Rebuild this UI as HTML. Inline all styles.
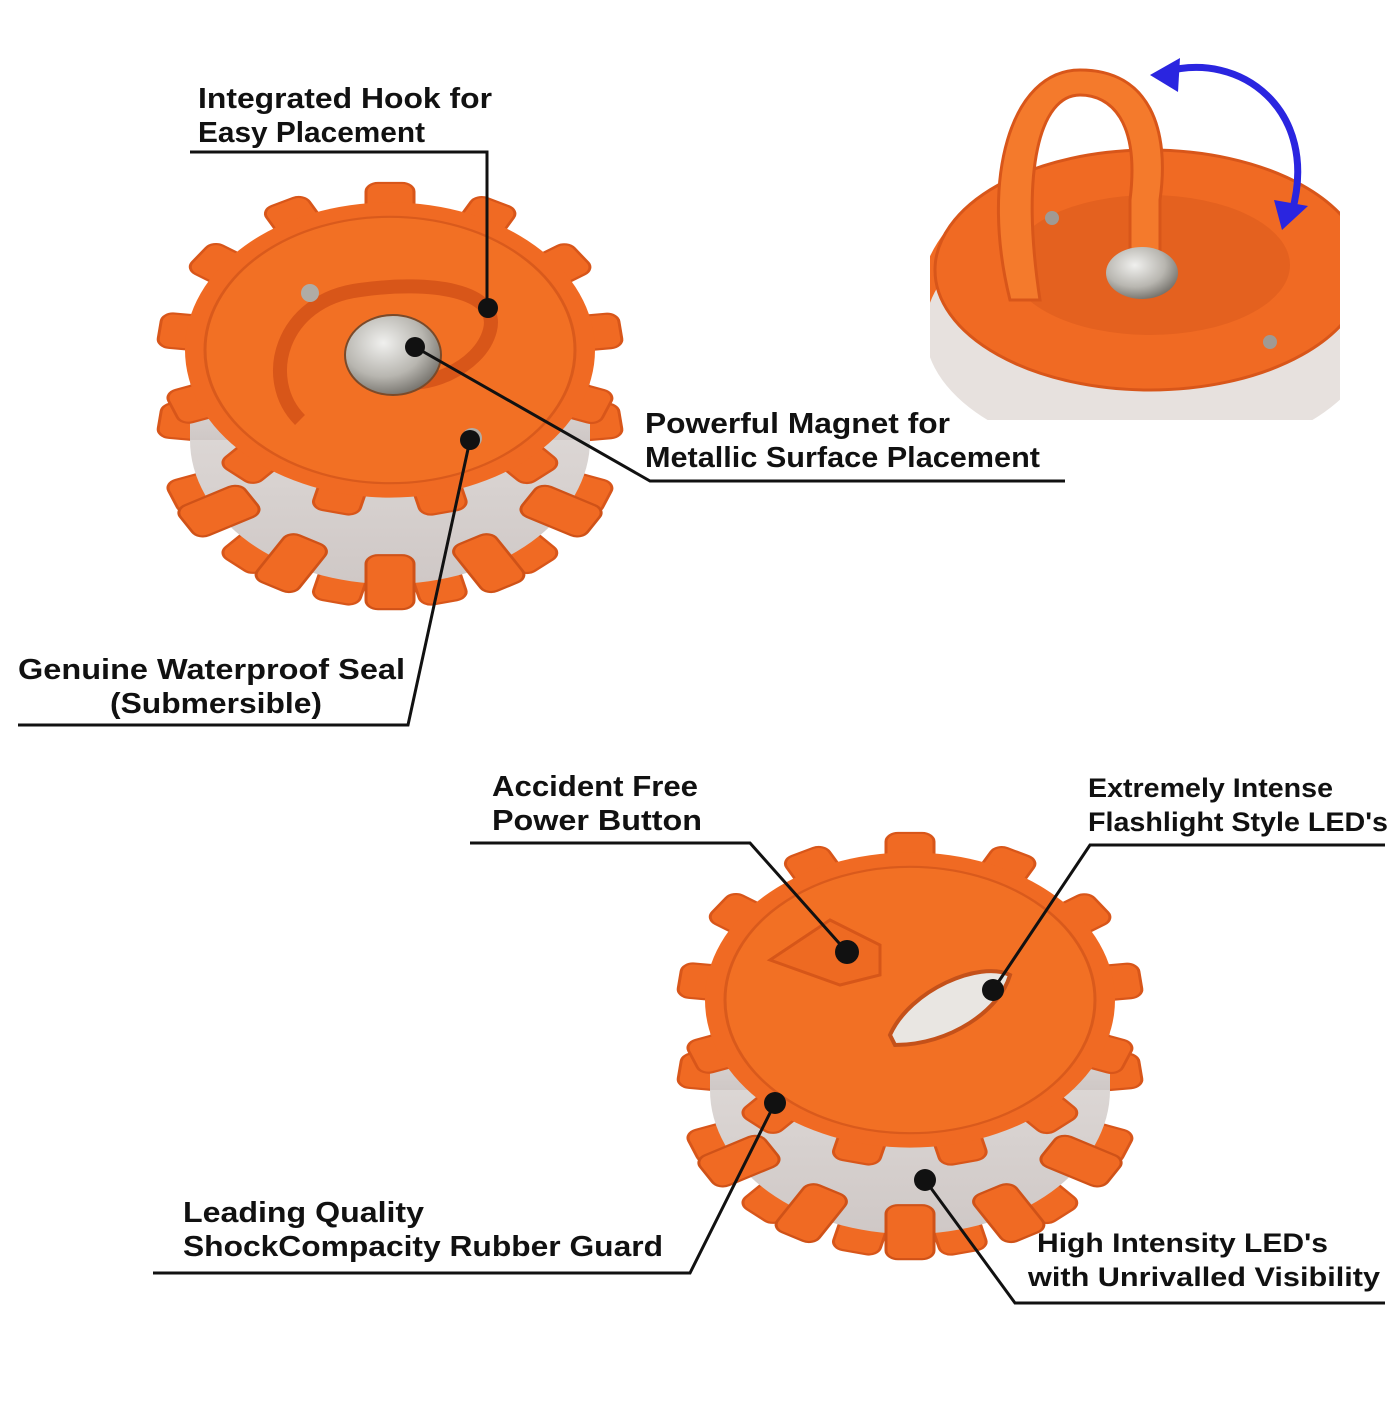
<!DOCTYPE html>
<html><head><meta charset="utf-8"><style>
html,body{margin:0;padding:0;background:#fff;}
svg text{font-family:"Liberation Sans",sans-serif;font-weight:bold;fill:#111;}
</style></head><body>
<svg width="1400" height="1400" viewBox="0 0 1400 1400" xmlns="http://www.w3.org/2000/svg">
<defs>
<radialGradient id="mag" cx="40%" cy="35%" r="70%"><stop offset="0" stop-color="#f0f0ee"/><stop offset="0.6" stop-color="#b8b6b0"/><stop offset="1" stop-color="#6f6c66"/></radialGradient>
<linearGradient id="side" x1="0" y1="0" x2="0" y2="1"><stop offset="0" stop-color="#e8e4e2"/><stop offset="1" stop-color="#cfc8c6"/></linearGradient>
<g id="lugs">
  <g fill="#f06a23" stroke="#d8561a" stroke-width="3">
    <rect x="-24" y="-232" width="48" height="70" rx="12" transform="rotate(0)"/>
    <rect x="-24" y="-232" width="48" height="70" rx="12" transform="rotate(27.7)"/>
    <rect x="-24" y="-232" width="48" height="70" rx="12" transform="rotate(55.4)"/>
    <rect x="-24" y="-232" width="48" height="70" rx="12" transform="rotate(83.1)"/>
    <rect x="-24" y="-232" width="48" height="70" rx="12" transform="rotate(110.8)"/>
    <rect x="-24" y="-232" width="48" height="70" rx="12" transform="rotate(138.5)"/>
    <rect x="-24" y="-232" width="48" height="70" rx="12" transform="rotate(166.2)"/>
    <rect x="-24" y="-232" width="48" height="70" rx="12" transform="rotate(193.9)"/>
    <rect x="-24" y="-232" width="48" height="70" rx="12" transform="rotate(221.6)"/>
    <rect x="-24" y="-232" width="48" height="70" rx="12" transform="rotate(249.3)"/>
    <rect x="-24" y="-232" width="48" height="70" rx="12" transform="rotate(277)"/>
    <rect x="-24" y="-232" width="48" height="70" rx="12" transform="rotate(304.7)"/>
    <rect x="-24" y="-232" width="48" height="70" rx="12" transform="rotate(332.4)"/>
  </g>
</g>
</defs>

<!-- Top-left puck -->
<g transform="translate(390,440) scale(1,0.72)">
  <use href="#lugs"/>
  <circle r="200" fill="url(#side)"/>
</g>
<rect x="190" y="350" width="400" height="90" fill="url(#side)"/>
<g transform="translate(390,440) scale(1,0.72)">
  <g fill="#f06a23" stroke="#cf5218" stroke-width="3">
    <rect x="-24" y="160" width="48" height="75" rx="12"/>
    <rect x="-24" y="160" width="48" height="75" rx="12" transform="rotate(30)"/>
    <rect x="-24" y="160" width="48" height="75" rx="12" transform="rotate(-30)"/>
    <rect x="-24" y="160" width="48" height="75" rx="12" transform="rotate(60)"/>
    <rect x="-24" y="160" width="48" height="75" rx="12" transform="rotate(-60)"/>
  </g>
</g>
<g transform="translate(390,350) scale(1,0.72)">
  <use href="#lugs"/>
  <circle r="205" fill="#f06a23"/>
  <circle r="185" fill="#f27024" stroke="#d95a1c" stroke-width="3"/>
</g>
<path d="M300,420 C260,380 280,300 360,290 C430,280 500,290 490,330 C480,370 420,390 400,380" fill="none" stroke="#d85619" stroke-width="14"/>
<ellipse cx="393" cy="355" rx="48" ry="40" fill="url(#mag)" stroke="#7a4a2a" stroke-width="2"/>
<circle cx="310" cy="293" r="9" fill="#b0aca5"/>
<circle cx="472" cy="438" r="10" fill="#b0aca5"/>

<!-- Top-right partial puck -->
<g>
  <clipPath id="c1"><rect x="930" y="40" width="410" height="380"/></clipPath>
  <g clip-path="url(#c1)">
    <ellipse cx="1150" cy="300" rx="230" ry="150" fill="#f06a23"/>
    <ellipse cx="1150" cy="330" rx="225" ry="130" fill="#e7e1de"/>
    <ellipse cx="1150" cy="270" rx="215" ry="120" fill="#f06a23" stroke="#d8561a" stroke-width="3"/>
    <ellipse cx="1150" cy="265" rx="140" ry="70" fill="#e4611f"/>
    <path d="M1010,300 C980,180 1010,70 1080,70 C1150,70 1170,130 1160,200 L1160,280 L1130,280 L1130,200 C1140,120 1110,95 1080,95 C1040,95 1020,170 1040,300 Z" fill="#f47a2c" stroke="#d8561a" stroke-width="3"/>
    <ellipse cx="1142" cy="273" rx="36" ry="26" fill="url(#mag)"/>
    <circle cx="1052" cy="218" r="7" fill="#a09a94"/>
    <circle cx="1270" cy="342" r="7" fill="#a09a94"/>
  </g>
  <path d="M1165,72 C1240,50 1320,110 1292,212" fill="none" stroke="#2a25e0" stroke-width="7"/>
  <polygon points="1150,75 1180,58 1178,92" fill="#2a25e0"/>
  <polygon points="1282,230 1274,200 1308,206" fill="#2a25e0"/>
</g>

<!-- Bottom puck -->
<g transform="translate(910,1090) scale(1,0.72)">
  <use href="#lugs"/>
  <circle r="200" fill="url(#side)"/>
</g>
<rect x="710" y="1000" width="400" height="90" fill="url(#side)"/>
<g transform="translate(910,1090) scale(1,0.72)">
  <g fill="#f06a23" stroke="#cf5218" stroke-width="3">
    <rect x="-24" y="160" width="48" height="75" rx="12"/>
    <rect x="-24" y="160" width="48" height="75" rx="12" transform="rotate(30)"/>
    <rect x="-24" y="160" width="48" height="75" rx="12" transform="rotate(-30)"/>
    <rect x="-24" y="160" width="48" height="75" rx="12" transform="rotate(60)"/>
    <rect x="-24" y="160" width="48" height="75" rx="12" transform="rotate(-60)"/>
  </g>
</g>
<g transform="translate(910,1000) scale(1,0.72)">
  <use href="#lugs"/>
  <circle r="205" fill="#f06a23"/>
  <circle r="185" fill="#f27024" stroke="#d95a1c" stroke-width="3"/>
</g>
<path d="M770,960 L830,920 L880,945 L880,975 L840,985 Z" fill="#ee6a22" stroke="#d65619" stroke-width="3"/>
<path d="M890,1035 C910,990 980,960 1010,975 C1000,1010 950,1045 895,1045 Z" fill="#e9e6e2" stroke="#c4511a" stroke-width="4"/>

<!-- Leader lines -->
<g stroke="#111" stroke-width="3" fill="none">
  <polyline points="190,152 487,152 487,308"/>
  <polyline points="1065,481 650,481 415,347"/>
  <polyline points="18,725 408,725 470,440"/>
  <polyline points="470,843 750,843 847,952"/>
  <polyline points="1385,845 1090,845 993,990"/>
  <polyline points="153,1273 690,1273 775,1103"/>
  <polyline points="1385,1303 1015,1303 925,1180"/>
</g>
<g fill="#111">
  <circle cx="488" cy="308" r="10"/>
  <circle cx="415" cy="347" r="10"/>
  <circle cx="470" cy="440" r="10"/>
  <circle cx="847" cy="952" r="12"/>
  <circle cx="993" cy="990" r="11"/>
  <circle cx="775" cy="1103" r="11"/>
  <circle cx="925" cy="1180" r="11"/>
</g>

<!-- Labels -->
<g font-size="29">
  <text x="198" y="108" textLength="294" lengthAdjust="spacingAndGlyphs">Integrated Hook for</text>
  <text x="198" y="142" textLength="227" lengthAdjust="spacingAndGlyphs">Easy Placement</text>
  <text x="645" y="433" textLength="305" lengthAdjust="spacingAndGlyphs">Powerful Magnet for</text>
  <text x="645" y="467" textLength="395" lengthAdjust="spacingAndGlyphs">Metallic Surface Placement</text>
  <text x="18" y="679" textLength="387" lengthAdjust="spacingAndGlyphs">Genuine Waterproof Seal</text>
  <text x="110" y="713" textLength="212" lengthAdjust="spacingAndGlyphs">(Submersible)</text>
  <text x="492" y="796" textLength="206" lengthAdjust="spacingAndGlyphs">Accident Free</text>
  <text x="492" y="830" textLength="210" lengthAdjust="spacingAndGlyphs">Power Button</text>
  <text x="183" y="1222" textLength="241" lengthAdjust="spacingAndGlyphs">Leading Quality</text>
  <text x="183" y="1256" textLength="480" lengthAdjust="spacingAndGlyphs">ShockCompacity Rubber Guard</text>
</g>
<g font-size="27">
  <text x="1088" y="797" textLength="245" lengthAdjust="spacingAndGlyphs">Extremely Intense</text>
  <text x="1088" y="831" textLength="300" lengthAdjust="spacingAndGlyphs">Flashlight Style LED's</text>
  <text x="1037" y="1252" textLength="291" lengthAdjust="spacingAndGlyphs">High Intensity LED's</text>
  <text x="1028" y="1286" textLength="352" lengthAdjust="spacingAndGlyphs">with Unrivalled Visibility</text>
</g>
</svg>
</body></html>
